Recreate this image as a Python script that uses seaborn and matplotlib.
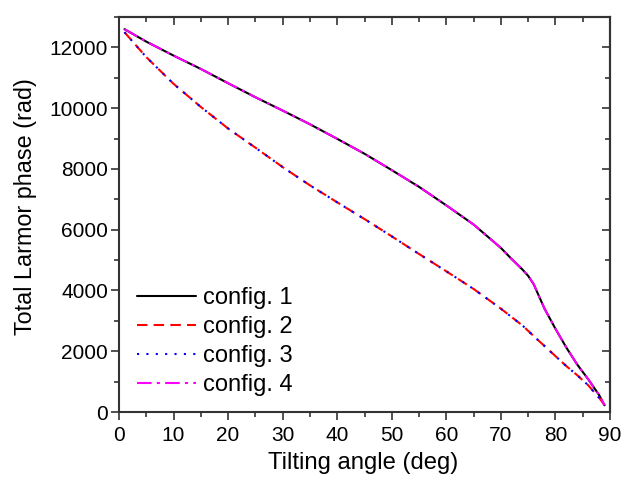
import numpy as np
import pandas as pd
import seaborn as sns
import matplotlib.pyplot as plt
from matplotlib.ticker import MultipleLocator

# --- DATA ---
angle = [1, 5, 10, 15, 20, 25, 30, 35, 40, 45, 50, 55, 60, 65, 70,
         72, 74, 75, 76, 78, 80, 82, 84, 86, 88, 89]

phase_cfg1 = [12600, 12190, 11730, 11290, 10820, 10360, 9920, 9470, 8990, 8500,
              7960, 7410, 6800, 6170, 5400, 5030, 4680, 4480, 4210, 3400,
              2740, 2120, 1560, 1080, 560, 220]
phase_cfg2 = [12500, 11680, 10800, 10040, 9330, 8700, 8060, 7460, 6900, 6350,
              5780, 5200, 4630, 4050, 3400, 3120, 2840, 2670, 2500, 2170,
              1840, 1510, 1210, 880, 470, 230]
phase_cfg3 = [12500, 11680, 10800, 10040, 9330, 8700, 8060, 7460, 6900, 6350,
              5780, 5200, 4630, 4050, 3400, 3120, 2840, 2670, 2500, 2170,
              1840, 1510, 1210, 880, 470, 230]
phase_cfg4 = [12600, 12190, 11730, 11290, 10820, 10360, 9920, 9470, 8990, 8500,
              7960, 7410, 6800, 6170, 5400, 5030, 4680, 4480, 4210, 3400,
              2740, 2120, 1560, 1080, 560, 220]

labels = ["config. 1", "config. 2", "config. 3", "config. 4"]
colors = ["black", "red", "blue", "magenta"]
styles = ["-", (0, (5, 3)), (0, (1, 3.5)), (0, (7, 2.5, 1.5, 2.5))]

# --- STYLE ---
sns.set_style("ticks")
plt.rcParams["font.family"] = ["Liberation Sans", "DejaVu Sans"]
plt.rcParams["axes.linewidth"] = 1.5
plt.rcParams["axes.edgecolor"] = "#333333"
plt.rcParams["text.color"] = "black"
plt.rcParams["axes.labelcolor"] = "black"
plt.rcParams["xtick.labelcolor"] = "black"
plt.rcParams["ytick.labelcolor"] = "black"

fig = plt.figure(figsize=(6.21, 4.82), dpi=100)
ax = fig.add_axes([119 / 621, 1 - 412 / 482, 491 / 621, 395 / 482])

series = [phase_cfg1, phase_cfg2, phase_cfg3, phase_cfg4]
for vals, lab, col, ls in zip(series, labels, colors, styles):
    df = pd.DataFrame({"angle": angle, "phase": vals})
    sns.lineplot(data=df, x="angle", y="phase", ax=ax, color=col,
                 linestyle=ls, linewidth=1.5, label=lab)

ax.set_xlim(0, 90)
ax.set_ylim(0, 13000)
ax.xaxis.set_major_locator(MultipleLocator(10))
ax.xaxis.set_minor_locator(MultipleLocator(5))
ax.yaxis.set_major_locator(MultipleLocator(2000))
ax.yaxis.set_minor_locator(MultipleLocator(1000))

ax.tick_params(which="major", direction="out", length=6, width=1.2,
               labelsize=15, color="#333333")
ax.tick_params(which="minor", direction="out", length=3.5, width=1.2,
               color="#333333")
ax.tick_params(axis="x", which="major", pad=4)
ax.tick_params(axis="y", which="major", pad=2)

# mirrored ticks pointing inward on top / right
top = ax.secondary_xaxis("top")
top.xaxis.set_major_locator(MultipleLocator(10))
top.xaxis.set_minor_locator(MultipleLocator(5))
top.tick_params(which="major", direction="in", length=6, width=1.2,
                labeltop=False, color="#333333")
top.tick_params(which="minor", direction="in", length=3.5, width=1.2,
                color="#333333")
right = ax.secondary_yaxis("right")
right.yaxis.set_major_locator(MultipleLocator(2000))
right.yaxis.set_minor_locator(MultipleLocator(1000))
right.tick_params(which="major", direction="in", length=6, width=1.2,
                  labelright=False, color="#333333")
right.tick_params(which="minor", direction="in", length=3.5, width=1.2,
                  color="#333333")
for sp in list(top.spines.values()) + list(right.spines.values()):
    sp.set_linewidth(1.5)
    sp.set_color("#333333")

ax.set_xlabel("Tilting angle (deg)", fontsize=17.2)
ax.set_ylabel("Total Larmor phase (rad)", fontsize=16.8)
ax.xaxis.set_label_coords(0.497, -0.1)
ax.yaxis.set_label_coords(-0.167, 0.52)

ax.legend(loc="lower left", bbox_to_anchor=(0.036, 0.04), frameon=False,
          fontsize=17, handlelength=2.5, handletextpad=0.3, labelspacing=0.3,
          borderpad=0, borderaxespad=0)

fig.savefig("out.png", dpi=100)
